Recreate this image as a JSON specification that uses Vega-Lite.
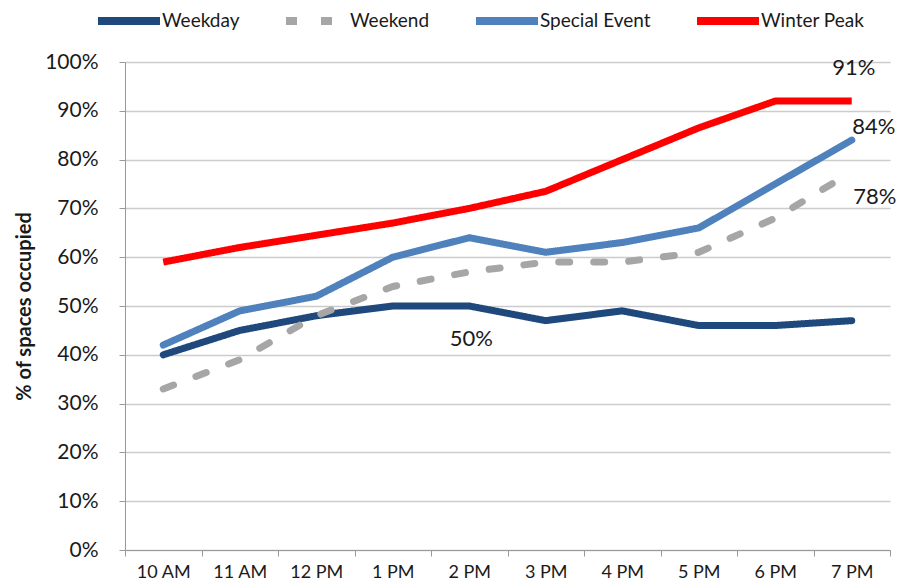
{
  "$schema": "https://vega.github.io/schema/vega-lite/v6.json",
  "width": 765,
  "height": 488,
  "autosize": "none",
  "padding": {"left": 125, "top": 62, "right": 14, "bottom": 31},
  "background": "white",
  "config": {
    "font": "Lato",
    "view": {"stroke": null}
  },
  "datasets": {
    "occ": [
      {"time": "10 AM", "series": "Weekday", "pct": 40},
      {"time": "11 AM", "series": "Weekday", "pct": 45},
      {"time": "12 PM", "series": "Weekday", "pct": 48},
      {"time": "1 PM", "series": "Weekday", "pct": 50},
      {"time": "2 PM", "series": "Weekday", "pct": 50},
      {"time": "3 PM", "series": "Weekday", "pct": 47},
      {"time": "4 PM", "series": "Weekday", "pct": 49},
      {"time": "5 PM", "series": "Weekday", "pct": 46},
      {"time": "6 PM", "series": "Weekday", "pct": 46},
      {"time": "7 PM", "series": "Weekday", "pct": 47},
      {"time": "10 AM", "series": "Weekend", "pct": 33},
      {"time": "11 AM", "series": "Weekend", "pct": 39},
      {"time": "12 PM", "series": "Weekend", "pct": 48},
      {"time": "1 PM", "series": "Weekend", "pct": 54},
      {"time": "2 PM", "series": "Weekend", "pct": 57},
      {"time": "3 PM", "series": "Weekend", "pct": 59},
      {"time": "4 PM", "series": "Weekend", "pct": 59},
      {"time": "5 PM", "series": "Weekend", "pct": 61},
      {"time": "6 PM", "series": "Weekend", "pct": 68},
      {"time": "7 PM", "series": "Weekend", "pct": 77.5},
      {"time": "10 AM", "series": "Special Event", "pct": 42},
      {"time": "11 AM", "series": "Special Event", "pct": 49},
      {"time": "12 PM", "series": "Special Event", "pct": 52},
      {"time": "1 PM", "series": "Special Event", "pct": 60},
      {"time": "2 PM", "series": "Special Event", "pct": 64},
      {"time": "3 PM", "series": "Special Event", "pct": 61},
      {"time": "4 PM", "series": "Special Event", "pct": 63},
      {"time": "5 PM", "series": "Special Event", "pct": 66},
      {"time": "6 PM", "series": "Special Event", "pct": 75},
      {"time": "7 PM", "series": "Special Event", "pct": 84},
      {"time": "10 AM", "series": "Winter Peak", "pct": 59},
      {"time": "11 AM", "series": "Winter Peak", "pct": 62},
      {"time": "12 PM", "series": "Winter Peak", "pct": 64.5},
      {"time": "1 PM", "series": "Winter Peak", "pct": 67},
      {"time": "2 PM", "series": "Winter Peak", "pct": 70},
      {"time": "3 PM", "series": "Winter Peak", "pct": 73.5},
      {"time": "4 PM", "series": "Winter Peak", "pct": 80},
      {"time": "5 PM", "series": "Winter Peak", "pct": 86.5},
      {"time": "6 PM", "series": "Winter Peak", "pct": 92},
      {"time": "7 PM", "series": "Winter Peak", "pct": 92}
    ],
    "labels": [
      {"time": "7 PM", "pct": 92, "text": "91%", "pos": "above"},
      {"time": "7 PM", "pct": 84, "text": "84%", "pos": "right"},
      {"time": "7 PM", "pct": 77.5, "text": "78%", "pos": "below"},
      {"time": "2 PM", "pct": 50, "text": "50%", "pos": "under"}
    ]
  },
  "encoding": {
    "x": {
      "field": "time",
      "type": "ordinal",
      "sort": ["10 AM", "11 AM", "12 PM", "1 PM", "2 PM", "3 PM", "4 PM", "5 PM", "6 PM", "7 PM"],
      "scale": {"type": "band", "paddingInner": 0, "paddingOuter": 0},
      "axis": {
        "title": null,
        "labelAngle": 0,
        "labelFontSize": 18,
        "labelColor": "#1a1a1a",
        "labelPadding": 7,
        "domainColor": "#999999",
        "tickColor": "#999999",
        "tickBand": "extent",
        "tickSize": 6,
        "grid": false
      }
    },
    "y": {
      "field": "pct",
      "type": "quantitative",
      "scale": {"domain": [0, 100], "nice": false},
      "axis": {
        "title": "% of spaces occupied",
        "titleFontSize": 20,
        "titleFontWeight": "bold",
        "titleColor": "#1a1a1a",
        "titlePadding": 10,
        "values": [0, 10, 20, 30, 40, 50, 60, 70, 80, 90, 100],
        "labelExpr": "datum.value + '%'",
        "labelFontSize": 21,
        "labelColor": "#1a1a1a",
        "labelPadding": 21,
        "domainColor": "#999999",
        "tickColor": "#999999",
        "tickSize": 6,
        "gridColor": "#cccccc",
        "gridWidth": 1.5
      }
    }
  },
  "layer": [
    {
      "data": {"name": "occ"},
      "transform": [{"filter": "datum.series !== 'Winter Peak'"}],
      "mark": {"type": "line", "strokeWidth": 7, "strokeCap": "round", "strokeJoin": "round"},
      "encoding": {
        "color": {
          "field": "series",
          "type": "nominal",
          "scale": {
            "domain": ["Weekday", "Weekend", "Special Event", "Winter Peak"],
            "range": ["#1F497D", "#A6A6A6", "#4F81BD", "#FF0000"]
          },
          "legend": {
            "title": null,
            "orient": "none",
            "direction": "horizontal",
            "legendX": -31,
            "legendY": -76,
            "symbolType": "stroke",
            "symbolSize": 3844,
            "symbolStrokeWidth": 8,
            "labelFontSize": 19,
            "labelColor": "#1a1a1a",
            "labelOffset": -2,
            "columnPadding": 30
          }
        },
        "strokeDash": {
          "field": "series",
          "type": "nominal",
          "scale": {
            "domain": ["Weekday", "Weekend", "Special Event", "Winter Peak"],
            "range": [[1, 0], [11, 24], [1, 0], [1, 0]]
          },
          "legend": {
            "title": null,
            "orient": "none",
            "direction": "horizontal",
            "legendX": -31,
            "legendY": -76,
            "symbolType": "stroke",
            "symbolSize": 3844,
            "symbolStrokeWidth": 8,
            "labelFontSize": 19,
            "labelColor": "#1a1a1a",
            "labelOffset": -2,
            "columnPadding": 30
          }
        }
      }
    },
    {
      "data": {"name": "occ"},
      "transform": [{"filter": "datum.series === 'Winter Peak'"}],
      "mark": {"type": "line", "strokeWidth": 7, "strokeCap": "butt", "strokeJoin": "round"},
      "encoding": {
        "color": {"field": "series", "type": "nominal"},
        "strokeDash": {"field": "series", "type": "nominal"}
      }
    },
    {
      "data": {"name": "labels"},
      "transform": [{"filter": "datum.pos === 'above'"}],
      "mark": {"type": "text", "fontSize": 22, "color": "#1a1a1a", "baseline": "middle", "align": "center", "dx": 2, "dy": -33},
      "encoding": {"text": {"field": "text"}}
    },
    {
      "data": {"name": "labels"},
      "transform": [{"filter": "datum.pos === 'right'"}],
      "mark": {"type": "text", "fontSize": 22, "color": "#1a1a1a", "baseline": "middle", "align": "center", "dx": 22, "dy": -13},
      "encoding": {"text": {"field": "text"}}
    },
    {
      "data": {"name": "labels"},
      "transform": [{"filter": "datum.pos === 'below'"}],
      "mark": {"type": "text", "fontSize": 22, "color": "#1a1a1a", "baseline": "middle", "align": "center", "dx": 23, "dy": 25},
      "encoding": {"text": {"field": "text"}}
    },
    {
      "data": {"name": "labels"},
      "transform": [{"filter": "datum.pos === 'under'"}],
      "mark": {"type": "text", "fontSize": 22, "color": "#1a1a1a", "baseline": "middle", "align": "center", "dx": 2, "dy": 33},
      "encoding": {"text": {"field": "text"}}
    }
  ]
}
